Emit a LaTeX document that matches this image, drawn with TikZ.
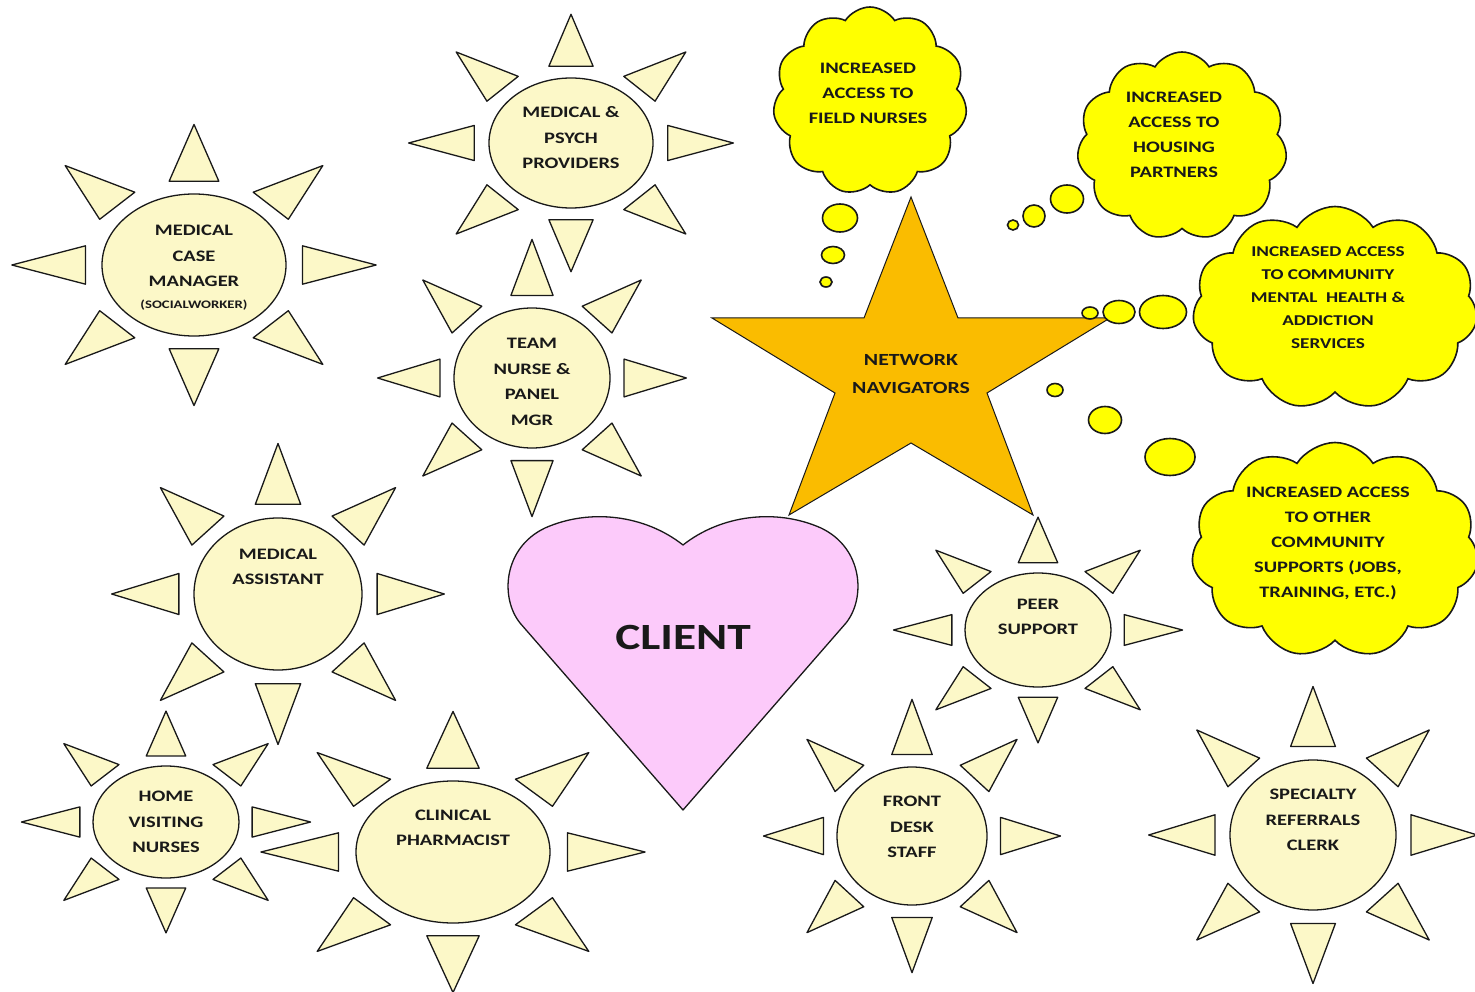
\documentclass[tikz,border=0pt]{standalone}
\usepackage{fontspec}
\setmainfont{Carlito}[FakeStretch=1.28]
\usetikzlibrary{shapes.geometric,shapes.symbols}

\definecolor{sunfill}{RGB}{252,248,200}
\definecolor{cloudfill}{RGB}{255,255,0}
\definecolor{starfill}{RGB}{250,188,0}
\definecolor{heartfill}{RGB}{252,202,250}
\definecolor{ink}{RGB}{25,25,25}

\tikzset{
  ray/.style={draw=ink, fill=sunfill, line width=1.3pt, line join=round},
  sunbody/.style={ellipse, draw=ink, fill=sunfill, line width=1.3pt, inner sep=0pt, outer sep=0pt},
  suntext/.style={font=\fontsize{16}{25.5}\selectfont\bfseries, text=ink, align=center, inner sep=0pt},
  notetext/.style={font=\fontsize{11.5}{14}\selectfont\bfseries, text=ink, align=center, inner sep=0pt},
  thought/.style={cloud, cloud puffs=11, cloud puff arc=115, cloud ignores aspect, draw=ink, fill=cloudfill, line width=1.6pt, inner sep=0pt},
  bubble/.style={ellipse, draw=ink, fill=cloudfill, line width=1.6pt, inner sep=0pt},
  cloudtext/.style={font=\fontsize{16}{25}\selectfont\bfseries, text=ink, align=center, inner sep=0pt},
  starshape/.style={draw=ink, fill=starfill, line width=1pt, line join=miter},
  heartshape/.style={draw=ink, fill=heartfill, line width=1.3pt, line join=round},
}

% A sun: elliptical body with eight triangular rays.
% #1 name, #2 #3 centre, #4 #5 half axes, #6 text centre y, #7 text
\newcommand\drawsun[7]{%
  \begin{scope}[shift={(#2,#3)}, xscale=#4, yscale=#5]
    \foreach \a in {0,45,...,315}
      \draw[ray, rotate=\a] (1.98,0) -- (1.18,0.27) -- (1.18,-0.27) -- cycle;
  \end{scope}
  \node[sunbody, minimum width={2*#4pt}, minimum height={2*#5pt}] (#1) at (#2,#3) {};
  \node[suntext] (#1-t) at (#2,#6) {#7};
}

\begin{document}
\begin{tikzpicture}[x=1pt, y=-1pt]
  \fill[white] (0,0) rectangle (1475,992);
  \useasboundingbox (0,0) rectangle (1475,992);

  % team members around the client
  \drawsun{mcm}{194}{265}{92}{71}{256}{MEDICAL\\CASE\\MANAGER}
  \node[notetext] (mcm-note) at (194,305) {(SOCIALWORKER)};
  \drawsun{mpp}{571}{143}{82}{65}{138}{MEDICAL \&\\PSYCH\\PROVIDERS}
  \drawsun{tnp}{532}{378}{78}{70}{382}{TEAM\\NURSE \&\\PANEL\\MGR}
  \drawsun{ma}{278}{594}{84}{76}{567}{MEDICAL\\ASSISTANT}
  \drawsun{hvn}{166}{822}{73}{56}{822}{HOME\\VISITING\\NURSES}
  \drawsun{cp}{453}{852}{97}{71}{828}{CLINICAL\\PHARMACIST}
  \drawsun{fds}{912}{836}{75}{69}{827}{FRONT\\DESK\\STAFF}
  \drawsun{src}{1313}{835}{83}{75}{820}{SPECIALTY\\REFERRALS\\CLERK}
  \drawsun{ps}{1038}{630}{73}{57}{617}{PEER\\SUPPORT}

  % network navigators star
  \draw[starshape] (911,197) -- (958,318) -- (1110,318) -- (987,393) -- (1033,515)
    -- (911,443) -- (789,515) -- (835,393) -- (712,318) -- (864,318) -- cycle;
  \node[font=\fontsize{17}{28}\selectfont\bfseries, text=ink, align=center, inner sep=0pt]
    (nav) at (911,374) {NETWORK\\NAVIGATORS};

  % client heart
  \draw[heartshape] (683,810) -- (520,623)
    .. controls (500,598) and (503,548) .. (545,528)
    .. controls (590,508) and (645,515) .. (683,545)
    .. controls (721,515) and (776,508) .. (821,528)
    .. controls (863,548) and (866,598) .. (846,623) -- cycle;
  \node[font=\fontsize{37}{40}\selectfont\bfseries, text=ink, inner sep=0pt] (client) at (683,637) {CLIENT};

  % thought clouds
  \node[thought, minimum width=194pt, minimum height=188pt] (c1) at (870,101) {};
  \node[bubble, minimum width=35pt, minimum height=28pt] (c1b1) at (840,218) {};
  \node[bubble, minimum width=23pt, minimum height=17pt] (c1b2) at (833,255) {};
  \node[bubble, minimum width=12pt, minimum height=10pt] (c1b3) at (826,282) {};
  \node[cloudtext] (c1t) at (868,93) {INCREASED\\ACCESS TO\\FIELD NURSES};

  \node[thought, minimum width=210pt, minimum height=188pt] (c2) at (1182,146) {};
  \node[bubble, minimum width=33pt, minimum height=28pt] (c2b1) at (1067,199) {};
  \node[bubble, minimum width=22pt, minimum height=22pt] (c2b2) at (1034,216) {};
  \node[bubble, minimum width=11pt, minimum height=10pt] (c2b3) at (1013,225) {};
  \node[cloudtext] (c2t) at (1174,135) {INCREASED\\ACCESS TO\\HOUSING\\PARTNERS};

  \node[thought, minimum width=285pt, minimum height=203pt] (c3) at (1335,308) {};
  \node[bubble, minimum width=47pt, minimum height=33pt] (c3b1) at (1163,312) {};
  \node[bubble, minimum width=32pt, minimum height=23pt] (c3b2) at (1119,312) {};
  \node[bubble, minimum width=16pt, minimum height=12pt] (c3b3) at (1090,313) {};
  \node[cloudtext, font=\fontsize{15}{23}\selectfont\bfseries] (c3t) at (1328,298)
    {INCREASED ACCESS\\TO COMMUNITY\\MENTAL\ \ HEALTH \&\\ADDICTION\\SERVICES};

  \node[thought, minimum width=287pt, minimum height=215pt] (c4) at (1335,550) {};
  \node[bubble, minimum width=50pt, minimum height=37pt] (c4b1) at (1170,457) {};
  \node[bubble, minimum width=33pt, minimum height=27pt] (c4b2) at (1105,420) {};
  \node[bubble, minimum width=16pt, minimum height=13pt] (c4b3) at (1055,390) {};
  \node[cloudtext] (c4t) at (1328,543)
    {INCREASED ACCESS\\TO OTHER\\COMMUNITY\\SUPPORTS (JOBS,\\TRAINING, ETC.)};
\end{tikzpicture}
\end{document}
